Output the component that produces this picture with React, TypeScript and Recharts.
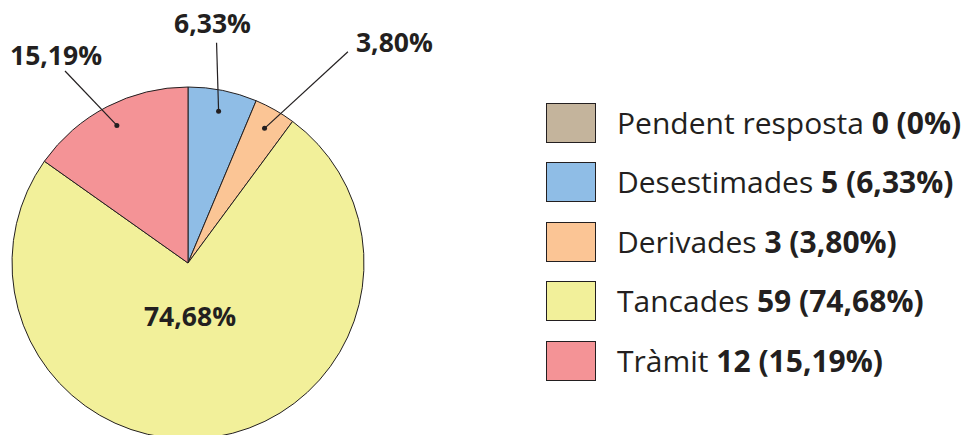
import { PieChart, Pie, Cell, Legend } from "recharts";

// === Data ===
const categories = ["Pendent resposta", "Desestimades", "Derivades", "Tancades", "Tràmit"];
const counts = [0, 5, 3, 59, 12];
const colors = ["#c4b49c", "#8fbde6", "#fbc595", "#f2f09a", "#f49396"];

const total = counts.reduce((a, b) => a + b, 0);
const pct = (v: number) => (v === 0 ? "0%" : ((v / total) * 100).toFixed(2).replace(".", ",") + "%");

const data = categories.map((name, i) => ({ name, value: counts[i] }));

const FONT = "'Open Sans', sans-serif";
const INK = "#231f20";
const RAD = Math.PI / 180;

// leader line end: angle tweak (deg) + radius, and text offset from line end
const labelLayout: Record<string, { da: number; r: number; dx: number; dy: number; anchor: string }> = {
  Desestimades: { da: -4, r: 222, dx: -4, dy: -10, anchor: "middle" },
  Derivades: { da: 7.5, r: 265, dx: 8, dy: 0, anchor: "start" },
  Tràmit: { da: -5.3, r: 228, dx: -9, dy: -6, anchor: "middle" },
};

// polar coords, angle measured clockwise from 12 o'clock
const polar = (cx: number, cy: number, r: number, a: number) => ({
  x: cx + r * Math.sin(a * RAD),
  y: cy - r * Math.cos(a * RAD),
});

const renderLabel = (props: any) => {
  const { cx, cy, outerRadius, midAngle, name, value } = props;
  if (!value) return null;
  // recharts midAngle: counter-clockwise from 3 o'clock
  const a = 90 - midAngle;
  if (name === "Tancades") {
    return (
      <text x={cx + 2} y={cy + 63} textAnchor="middle" fontFamily={FONT} fontWeight={700} fontSize={26.5} fill={INK}>
        {pct(value)}
      </text>
    );
  }
  const lay = labelLayout[name];
  if (!lay) return null;
  const dot = polar(cx, cy, outerRadius * 0.88, a);
  const end = polar(cx, cy, lay.r, a + lay.da);
  return (
    <g>
      <line x1={dot.x} y1={dot.y} x2={end.x} y2={end.y} stroke={INK} strokeWidth={1.2} />
      <circle cx={dot.x} cy={dot.y} r={2.5} fill={INK} />
      <text x={end.x + lay.dx} y={end.y + lay.dy} textAnchor={lay.anchor as any} fontFamily={FONT} fontWeight={700} fontSize={26.5} fill={INK}>
        {pct(value)}
      </text>
    </g>
  );
};

const renderLegend = () => (
  <div style={{ fontFamily: FONT, color: INK }}>
    {categories.map((name, i) => (
      <div key={name} style={{ display: "flex", alignItems: "center", height: 59.5 }}>
        <div
          style={{
            width: 48,
            height: 38,
            background: colors[i],
            border: `1px solid ${INK}`,
            marginRight: 21,
            flexShrink: 0,
          }}
        />
        <span style={{ fontSize: 30, whiteSpace: "nowrap", lineHeight: 1 }}>
          {name} <b>{counts[i]} ({pct(counts[i])})</b>
        </span>
      </div>
    ))}
  </div>
);

export default function App() {
  return (
    <div style={{ width: 965, height: 435, background: "#fff" }}>
      <style>{`body{margin:0}`}</style>
      <PieChart width={965} height={435} margin={{ top: 0, right: 0, bottom: 0, left: 0 }}>
        <Pie
          data={data}
          dataKey="value"
          nameKey="name"
          cx={188}
          cy={263}
          outerRadius={176}
          startAngle={90}
          endAngle={-270}
          stroke={INK}
          strokeWidth={1}
          label={renderLabel}
          labelLine={false}
          isAnimationActive={false}
        >
          {data.map((d, i) => (
            <Cell key={d.name} fill={colors[i]} />
          ))}
        </Pie>
        <Legend content={renderLegend} wrapperStyle={{ left: 546, top: 93, width: 420 }} />
      </PieChart>
    </div>
  );
}
